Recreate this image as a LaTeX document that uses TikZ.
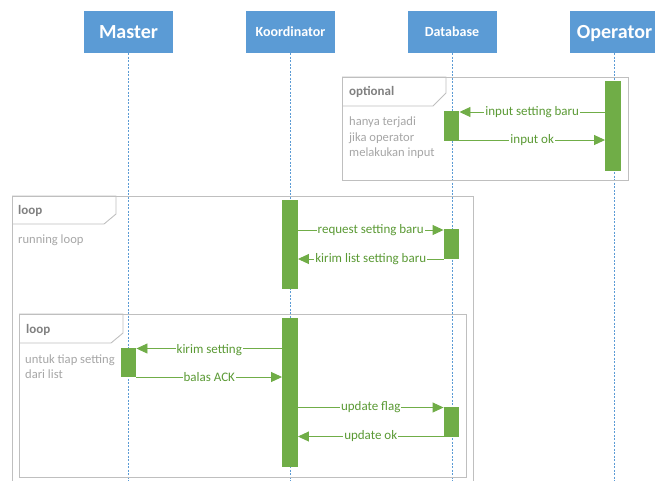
\documentclass[tikz,border=0pt]{standalone}
\usepackage{fontspec}
\setmainfont{Carlito}
\usetikzlibrary{arrows.meta}
\definecolor{hdrblue}{HTML}{5B9BD5}
\definecolor{actgreen}{HTML}{70AD47}
\definecolor{msggreen}{HTML}{5B9A35}
\definecolor{framegray}{HTML}{BFBFBF}
\definecolor{tabgray}{HTML}{808080}
\definecolor{notegray}{HTML}{A6A6A6}
\tikzset{
  actor/.style={fill=hdrblue, draw=none, minimum width=89pt, minimum height=42pt,
    text=white, inner sep=0pt, text depth=0pt},
  bigactor/.style={actor, font=\bfseries\fontsize{20}{22}\selectfont, text height=12.9pt},
  smallactor/.style={actor, font=\bfseries\fontsize{14}{16}\selectfont, text height=9pt},
  lifeline/.style={draw=hdrblue, line width=0.6pt, dash pattern=on 2pt off 1.5pt},
  actbar/.style={fill=actgreen, draw=none, minimum width=15.5pt, inner sep=0pt},
  msg/.style={draw=actgreen, line width=0.9pt,
    -{Triangle[length=11pt, width=10pt]}},
  msglabel/.style={fill=white, inner sep=1pt, text=msggreen, font=\fontsize{13}{14}\selectfont},
  frame/.style={draw=framegray, line width=0.9pt},
  tablabel/.style={anchor=west, text=tabgray, font=\bfseries\fontsize{13}{14}\selectfont, inner sep=0pt},
  note/.style={anchor=north west, text=notegray, align=left, inner sep=0pt,
    font=\fontsize{12.6}{15.2}\selectfont}
}
\begin{document}
\begin{tikzpicture}[x=1pt, y=-1pt]
\useasboundingbox (0,0) rectangle (655,480);
\clip (0,0) rectangle (655,480);

% participants
\node[bigactor] (master) at (128.5,32) {Master};
\node[smallactor] (koord) at (290.5,32) {Koordinator};
\node[smallactor] (db) at (452,32) {Database};
\node[bigactor] (oper) at (614.5,32) {Operator};

% lifelines
\foreach \p in {master,koord,db,oper}
  \draw[lifeline] (\p.south) -- (\p.south |- 0,482);

% optional fragment
\draw[frame] (342,77) rectangle (628,180);
\draw[frame] (342,77) -- (446,77) -- (446,93) -- (433,106) -- (342,106);
\node[tablabel] (optTag) at (349,92) {optional};
\node[note] (optNote) at (349,117) {hanya terjadi\\jika operator\\melakukan input};

% outer loop fragment
\draw[frame] (12,196) rectangle (473,495);
\draw[frame] (12,196) -- (116,196) -- (116,214) -- (104,224) -- (12,224);
\node[tablabel] (loopTagA) at (18,210.5) {loop};
\node[note] (loopNoteA) at (18,235) {running loop};

% inner loop fragment
\draw[frame] (19,314) rectangle (466,477);
\draw[frame] (19,314) -- (123,314) -- (123,333) -- (111,343) -- (19,343);
\node[tablabel] (loopTagB) at (26,329.5) {loop};
\node[note] (loopNoteB) at (25,354.5) {untuk tiap setting\\dari list};

% activation bars
\node[actbar, minimum height=90pt, anchor=north] (operA) at (613,81) {};
\node[actbar, minimum height=30pt, anchor=north] (dbA1) at (451.5,111) {};
\node[actbar, minimum height=89pt, anchor=north] (koA1) at (290,200) {};
\node[actbar, minimum height=30pt, anchor=north] (dbA2) at (451.5,229) {};
\node[actbar, minimum height=149pt, anchor=north] (koA2) at (290,318) {};
\node[actbar, minimum height=29pt, anchor=north] (maA) at (128.5,348) {};
\node[actbar, minimum height=30pt, anchor=north] (dbA3) at (451.5,407) {};

% messages
\draw[msg] (operA.west |- 0,112) -- node[msglabel] {input setting baru} (dbA1.east |- 0,112);
\draw[msg] (dbA1.east |- 0,140) -- node[msglabel] {input ok} (operA.west |- 0,140);
\draw[msg] (koA1.east |- 0,230) -- node[msglabel] {request setting baru} (dbA2.west |- 0,230);
\draw[msg] (dbA2.west |- 0,259) -- node[msglabel] {kirim list setting baru} (koA1.east |- 0,259);
\draw[msg] (koA2.west |- 0,348.5) -- node[msglabel, yshift=-2pt] {kirim setting} (maA.east |- 0,348.5);
\draw[msg] (maA.east |- 0,377) -- node[msglabel] {balas ACK} (koA2.west |- 0,377);
\draw[msg] (koA2.east |- 0,407.5) -- node[msglabel] {update flag} (dbA3.west |- 0,407.5);
\draw[msg] (dbA3.west |- 0,436.5) -- node[msglabel] {update ok} (koA2.east |- 0,436.5);
\end{tikzpicture}
\end{document}
